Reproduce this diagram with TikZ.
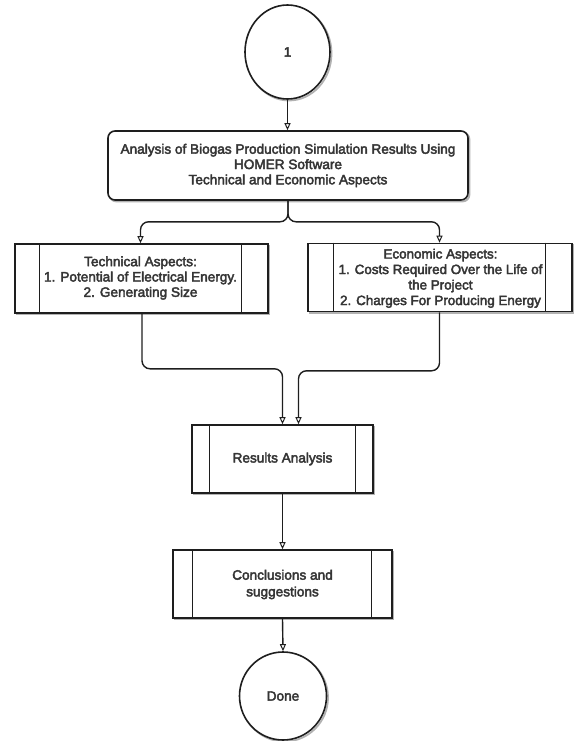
\documentclass[tikz,border=0pt]{standalone}
\usepackage{fontspec}
\setmainfont{Liberation Sans}[FakeBold=3]
\usetikzlibrary{shapes.geometric,arrows.meta}
\definecolor{ink}{HTML}{1E1E1E}
\tikzset{
  sk/.style={draw=ink, line width=1.6pt,
    preaction={draw=black!30, line width=1.8pt, transform canvas={shift={(1.5pt,-1.5pt)}}}},
  boxnode/.style={sk, rectangle, fill=white, inner sep=0pt},
  roundbox/.style={boxnode, rounded corners=7pt},
  oval/.style={sk, ellipse, fill=white, inner sep=0pt},
  txt/.style={font=\fontsize{13.6}{15.3}\selectfont, text=ink!90, align=center, inner sep=1pt},
  conn/.style={draw=ink, line width=1.4pt, rounded corners=8pt,
    -{Triangle[open, length=7pt, width=6pt, line width=1pt]}},
  inner/.style={draw=ink, line width=1.2pt}
}
\begin{document}
\begin{tikzpicture}[x=1pt,y=-1pt]
\useasboundingbox (0,0) rectangle (575,741);
% nodes
\node[oval, minimum width=85pt, minimum height=94pt] (c1) at (287.5,52) {};
\node[txt] (c1t) at (c1.center) {1};

\node[roundbox, minimum width=360pt, minimum height=69pt] (top) at (288,165.5) {};
\node[txt] (topt) at (top.center) {Analysis of Biogas Production Simulation Results Using\\HOMER Software\\Technical and Economic Aspects};

\node[boxnode, minimum width=253pt, minimum height=69pt] (left) at (141.5,278.5) {};
\draw[inner] ([xshift=25pt]left.north west) -- ([xshift=25pt]left.south west);
\draw[inner] ([xshift=-27pt]left.north east) -- ([xshift=-27pt]left.south east);
\node[txt] (leftt) at (140.5,278) {Technical Aspects:\\1. Potential of Electrical Energy.\\2. Generating Size};

\node[boxnode, minimum width=264pt, minimum height=68pt] (right) at (440,277.5) {};
\draw[inner] ([xshift=26pt]right.north west) -- ([xshift=26pt]right.south west);
\draw[inner] ([xshift=-27pt]right.north east) -- ([xshift=-27pt]right.south east);
\node[txt, font=\fontsize{13.4}{15.5}\selectfont] (rightt) at (440.5,278.3) {Economic Aspects:\\1. Costs Required Over the Life of\\the Project\\2. Charges For Producing Energy};

\node[boxnode, minimum width=181pt, minimum height=68pt] (res) at (282.5,459) {};
\draw[inner] ([xshift=18pt]res.north west) -- ([xshift=18pt]res.south west);
\draw[inner] ([xshift=-18pt]res.north east) -- ([xshift=-18pt]res.south east);
\node[txt] (rest) at (res.center) {Results Analysis};

\node[boxnode, minimum width=219pt, minimum height=68pt] (conc) at (282.5,584) {};
\draw[inner] ([xshift=20pt]conc.north west) -- ([xshift=20pt]conc.south west);
\draw[inner] ([xshift=-21pt]conc.north east) -- ([xshift=-21pt]conc.south east);
\node[txt, font=\fontsize{13.6}{16.7}\selectfont] (conct) at (282.5,584.5) {Conclusions and\\suggestions};

\node[oval, minimum width=87pt, minimum height=88pt] (done) at (283,696) {};
\node[txt] (donet) at (done.center) {Done};

% connector anchor points
\coordinate (splitL) at ([xshift=-1pt]left.north);
\coordinate (splitR) at ([xshift=-0.5pt]right.north);
\coordinate (outL) at ([xshift=0.5pt]left.south);
\coordinate (outR) at ([xshift=-0.5pt]right.south);
\coordinate (inL) at (res.north);
\coordinate (inR) at ([xshift=16pt]res.north);

% connectors
\draw[conn] (c1.south) -- (c1.south |- top.north);
\draw[conn] (top.south) -- ++(0,21) -| (splitL);
\draw[conn] (top.south) -- ++(0,21) -| (splitR);
\draw[conn] (outL) |- ([yshift=-55pt]inL |- left.south) -- (inL);
\draw[conn] (outR) |- ([yshift=-57pt]inR |- left.south) -- (inR);
\draw[conn] (res.south) -- (conc.north);
\draw[conn] (conc.south) -- (done.north);
\end{tikzpicture}
\end{document}
